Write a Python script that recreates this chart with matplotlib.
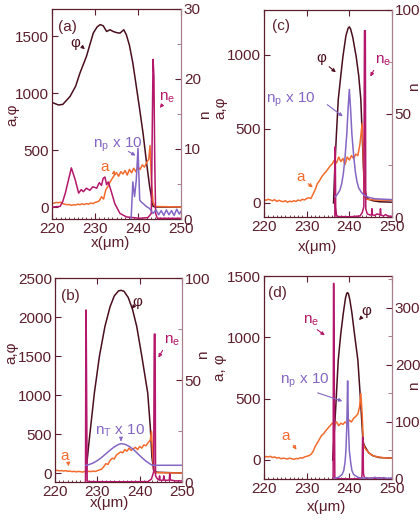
import numpy as np
import matplotlib
matplotlib.use("Agg")
import matplotlib.pyplot as plt
from matplotlib.ticker import MultipleLocator

plt.rcParams['font.family'] = ['Liberation Sans', 'DejaVu Sans']
plt.rcParams['mathtext.fontset'] = 'custom'
plt.rcParams['mathtext.rm'] = 'Liberation Sans'
plt.rcParams['mathtext.it'] = 'Liberation Sans'

# ---------------- data ----------------
x_ticks = [220, 230, 240, 250]

# panel (a)
phi_a_x = [220, 221.5, 222.5, 224.2, 225.5, 226.5, 228, 229.6, 230.5, 231.2, 231.9, 232.7, 233.5, 234.2,
           235, 235.8, 236.7, 237.3, 238, 238.8, 239.6, 240.4, 241.2, 241.9, 242.7, 243.5, 244, 250]
phi_a_y = [918, 895, 900, 970, 1060, 1175, 1320, 1526, 1580, 1600, 1590, 1540, 1555, 1540,
           1530, 1525, 1555, 1510, 1420, 1263, 1060, 854, 640, 415, 181, 6, 0, 0]
a_a_x = [220, 220.5, 221, 221.5, 222, 222.5, 223, 223.5, 224, 224.5, 225, 225.5, 226, 226.5, 227, 227.5,
         228, 228.5, 229, 229.5, 230, 230.5, 231, 231.5, 232, 232.5, 233, 233.5, 234, 234.5, 235, 235.5,
         236, 236.5, 237, 237.5, 238, 238.5, 239, 239.5, 240, 240.5, 241, 241.5, 242, 242.5, 242.8,
         243.1, 243.5, 244, 250]
a_a_y = [30, 35, 40, 38, 42, 30, 25, 20, 22, 15, 20, 18, 25, 20, 28, 22,
         30, 25, 35, 30, 40, 45, 55, 90, 70, 150, 180, 220, 250, 280, 300, 270,
         310, 290, 320, 280, 330, 300, 340, 310, 350, 330, 370, 350, 390, 420, 540,
         240, 40, 5, 0]
ne_a_x = [220, 221.9, 222.5, 223.1, 223.8, 224.5, 225.4, 226.2, 226.8, 227.3, 228, 228.8, 229.5, 230.4,
          231, 231.5, 231.9, 232.3, 232.7, 233.1, 233.8, 234.6, 235.8, 237.3, 240.4, 242.3, 243.1,
          243.3, 243.5, 243.7, 243.9, 244.1, 244.5, 250]
ne_a_y = [1.7, 1.8, 2.5, 3.7, 5.5, 7.3, 5.6, 3.7, 4.2, 3.9, 4.4, 4.1, 4.6, 4.4,
          5.2, 4.8, 5.8, 6.0, 4.9, 5.3, 3.9, 2.2, 0.8, 0.3, 0.1, 0.2, 0.8,
          12, 22.8, 20.5, 8, 0.8, 0.1, 0.1]
np_a_x = [238.4, 238.8, 239.2, 239.6, 240.0, 240.4, 240.8, 241.2, 241.9, 242.7, 243.5, 244.2, 244.8,
          245.4, 246, 246.6, 247.2, 247.8, 248.4, 249, 249.6, 250]
np_a_y = [0, 5.3, 3.2, 5.6, 10.1, 2.7, 2.4, 2.2, 1.8, 1.5, 0.8, 1.3, 0.6,
          1.2, 0.5, 1.3, 0.6, 1.2, 0.5, 1.4, 0.7, 1.1]

# panel (c)
phi_c_x = [236.3, 236.6, 237.0, 237.4, 238.0, 238.5, 239.2, 239.7, 240.0, 240.3, 240.8, 241.6, 242.2,
           242.7, 243.3, 243.6, 244.0, 244.5, 245.5, 247, 250]
phi_c_y = [0, 245, 480, 697, 860, 990, 1130, 1180, 1190, 1175, 1120, 990, 860,
           697, 245, 100, 40, 25, 15, 8, 5]
a_c_x = [220, 220.5, 221, 221.5, 222, 222.5, 223, 223.5, 224, 224.5, 225, 225.5, 226, 226.5, 227, 227.5,
         228, 228.5, 229, 229.5, 230, 230.5, 231, 231.5, 232, 232.5, 233, 233.5, 234, 234.5, 235, 235.5,
         236, 236.5, 237, 237.5, 238, 238.5, 239, 239.5, 240, 240.5, 241, 241.5, 242, 242.5, 243,
         243.2, 243.5, 244, 246, 250]
a_c_y = [23, 18, 25, 20, 15, 22, 10, 18, 12, 8, 15, 5, 12, 8, 15, 10,
         20, 15, 25, 20, 30, 35, 30, 60, 90, 130, 150, 175, 195, 210, 230, 250,
         265, 290, 270, 310, 280, 300, 260, 310, 290, 320, 300, 330, 320, 400, 538,
         400, 40, 25, 20, 18]
ne_c_x = [236.6, 236.7, 236.8, 237.0, 237.5, 240, 242.5, 243.0, 243.4, 243.55, 243.65, 243.75, 243.85,
          244.2, 244.8, 245.2, 245.3, 245.4, 246, 246.5, 247.2, 247.3, 247.4, 248, 248.5, 249, 250]
ne_c_y = [0, 34, 5, 0.5, 0.2, 0.1, 0.5, 2, 5, 90, 90, 90, 4,
          1.5, 1, 1, 4, 1, 0.8, 1.5, 1, 4, 1, 0.5, 1.2, 0.5, 0.3]
np_c_x = [236.7, 237.2, 237.8, 238.2, 238.6, 239.0, 239.4, 239.7, 240.0, 240.3, 240.6, 241.0, 241.4,
          241.8, 242.2, 242.8, 243.5, 244.5, 246, 250]
np_c_y = [9.7, 11, 13, 16, 21, 29, 40, 52, 61.6, 52, 40, 30, 22,
          17, 14, 12, 10.5, 9.5, 8.8, 8.4]

# panel (b)
phi_b_x = [227.3, 228, 229.3, 230.5, 231.8, 233, 234, 235, 235.6, 236.3, 237.3, 238.3, 239.3, 240.5,
           241.9, 242.5, 242.9, 243.3, 244, 250]
phi_b_y = [0, 380, 1026, 1500, 1880, 2130, 2270, 2335, 2342, 2330, 2250, 2100, 1880, 1500,
           1026, 600, 200, 40, 10, 0]
a_b_x = [220, 220.5, 221, 221.5, 222, 222.5, 223, 223.5, 224, 224.5, 225, 225.5, 226, 226.5, 227, 227.5,
         228, 228.5, 229, 229.5, 230, 230.5, 231, 231.5, 232, 232.5, 233, 233.5, 234, 234.5, 235, 235.5,
         236, 236.5, 237, 237.5, 238, 238.5, 239, 239.5, 240, 240.5, 241, 241.5, 242, 242.5, 242.8,
         243.0, 243.3, 243.6, 244, 250]
a_b_y = [30, 35, 28, 32, 25, 30, 22, 25, 18, 22, 15, 20, 18, 12, 20, 15,
         22, 18, 25, 20, 30, 40, 50, 80, 120, 110, 160, 190, 180, 230, 250, 270,
         260, 300, 280, 320, 290, 310, 330, 300, 340, 320, 360, 350, 390, 420, 534,
         300, 40, 0, 5, 0]
ne_b_x = [227.2, 227.3, 227.35, 227.6, 228, 235, 242, 242.8, 243.1, 243.3, 243.45, 243.55, 243.65, 243.75,
          244.2, 244.6, 244.7, 244.8, 245.2, 245.6, 245.7, 245.8, 246.4, 247.0, 247.1, 247.2, 247.8,
          248.5, 249.2, 250]
ne_b_y = [0, 84.3, 84.3, 0.5, 0.2, 0.1, 0.2, 1.5, 3.6, 5, 72.5, 72.5, 72.5, 3,
          1.5, 1, 3, 1, 0.8, 1, 3, 1, 0.8, 1, 4, 1, 0.8,
          0.5, 0.6, 0.5]
nT_b_x = [227.3, 228, 229, 230, 231, 232, 233, 234, 235, 235.6, 236.5, 237.5, 238.5, 239.5, 240.5,
          241.5, 242.5, 242.9, 244, 250]
nT_b_y = [8.2, 8.5, 9.3, 10.5, 12.0, 13.8, 15.6, 17.2, 18.4, 18.8, 18.5, 17.5, 16.0, 14.0, 12.0,
          10.2, 8.8, 8.3, 8.2, 8.2]

# panel (d)
phi_d_x = [236.1, 236.8, 237.4, 238.0, 238.6, 239.1, 239.4, 239.6, 239.8, 240.1, 240.6, 241.2, 242.0,
           242.6, 243.2, 243.5, 244, 244.5, 245.5, 247, 250]
phi_d_y = [0, 420, 814, 1030, 1200, 1320, 1360, 1364, 1355, 1310, 1200, 1030, 814,
           500, 150, 120, 90, 60, 35, 20, 15]
a_d_x = [220, 220.5, 221, 221.5, 222, 222.5, 223, 223.5, 224, 224.5, 225, 225.5, 226, 226.5, 227, 227.5,
         228, 228.5, 229, 229.5, 230, 230.5, 231, 231.5, 232, 232.5, 233, 233.5, 234, 234.5, 235, 235.5,
         236, 236.5, 237, 237.5, 238, 238.5, 239, 239.5, 240, 240.5, 241, 241.5, 242, 242.4, 242.7,
         243.0, 243.3, 243.6, 244, 245, 246, 248, 250]
a_d_y = [22, 28, 25, 30, 20, 25, 15, 20, 10, 15, 12, 8, 15, 10, 5, 12,
         10, 18, 15, 25, 30, 35, 45, 70, 110, 140, 170, 200, 215, 240, 260, 280,
         300, 290, 310, 280, 300, 290, 310, 295, 325, 310, 340, 355, 375, 434, 542,
         380, 130, 100, 80, 45, 30, 18, 15]
ne_d_x = [236.2, 236.3, 236.35, 236.6, 237, 240, 242.5, 242.9, 243.0, 243.1, 243.2, 243.3, 243.5, 244,
          245, 246, 247, 248, 250]
ne_d_y = [0, 343, 343, 2, 0.5, 0.2, 0.3, 2, 10, 73, 73, 10, 3, 1,
          1.5, 1, 2, 0.8, 0.5]
np_d_x = [236.5, 237.5, 238.3, 238.7, 239.0, 239.2, 239.4, 239.5, 239.6, 239.7, 239.8, 240.0, 240.3,
          240.6, 241, 242, 243.2, 244, 245, 246, 247, 248, 249, 250]
np_d_y = [1, 3, 8, 15, 30, 50, 90, 130, 172, 130, 90, 50, 30,
          15, 8, 3, 1, 2.5, 0.5, 3, 0.5, 2.5, 0.8, 2]

# ---------------- style ----------------
W, H = 420, 520
C_TXT = '#5c1f2e'
C_PHI = '#4a0f1f'
C_A = '#f26b2e'
C_NE = '#b5176b'
C_NP = '#8466c4'
C_RSP = '#a8808c'
FS = 11
LW = 1.1

fig = plt.figure(figsize=(W / 100, H / 100), dpi=100)


def box(l, r, t, b):
    return [l / W, 1 - b / H, (r - l) / W, (b - t) / H]


def fp(x, y):
    return (x / W, 1 - y / H)


def panel(rect, ylim_l, lticks, ylim_r, rticks, rminor, series_l, series_r):
    ax = fig.add_axes(rect)
    ax.set_xlim(220, 250)
    ax.set_ylim(*ylim_l)
    ax.set_xticks(x_ticks)
    ax.xaxis.set_minor_locator(MultipleLocator(1))
    ax.set_yticks(lticks)
    for xs, ys, c in series_l:
        ax.plot(xs, ys, color=c, lw=LW)
    ax.tick_params(axis='both', which='major', direction='in', length=4, width=0.8,
                   colors=C_TXT, labelsize=FS, top=True, pad=2)
    ax.tick_params(axis='x', which='minor', direction='in', length=1.8, width=0.6,
                   colors=C_TXT, top=False)
    for s in ['left', 'bottom', 'top']:
        ax.spines[s].set_color(C_TXT)
        ax.spines[s].set_linewidth(0.9)
    ax.spines['right'].set_visible(False)
    ax2 = ax.twinx()
    ax2.set_ylim(*ylim_r)
    ax2.set_yticks(rticks)
    ax2.yaxis.set_minor_locator(MultipleLocator(rminor))
    for xs, ys, c in series_r:
        ax2.plot(xs, ys, color=c, lw=LW)
    ax2.tick_params(axis='y', which='major', direction='in', length=4, width=0.8,
                    colors=C_TXT, labelsize=FS, pad=2)
    ax2.tick_params(axis='y', which='minor', direction='in', length=3, width=0.7, colors=C_RSP)
    ax2.spines['right'].set_color(C_RSP)
    ax2.spines['right'].set_linewidth(0.9)
    for s in ['left', 'bottom', 'top']:
        ax2.spines[s].set_visible(False)
    return ax, ax2


def axlabels(ylab, yl_xy, n_xy, x_xy):
    fig.text(*fp(*yl_xy), ylab, color=C_TXT, fontsize=FS, rotation=90, ha='center', va='center')
    fig.text(*fp(*n_xy), 'n', color=C_TXT, fontsize=FS, rotation=90, ha='center', va='center')
    fig.text(*fp(*x_xy), 'x(μm)', color=C_TXT, fontsize=FS, ha='center', va='center')


def label(text, xy_txt, color, arrow=None):
    fig.text(*fp(*xy_txt), text, color=color, fontsize=FS, ha='center', va='center')
    if arrow is not None:
        (x0, y0), (x1, y1) = arrow
        fig.add_artist(matplotlib.patches.FancyArrowPatch(
            fp(x0, y0), fp(x1, y1), transform=fig.transFigure, arrowstyle='-|>',
            mutation_scale=5, lw=0.8, color=color))


# (a)
panel(box(52, 181, 9, 219), (-105, 1737), [0, 500, 1000, 1500], (0, 30), [0, 10, 20, 30], 5,
      [(phi_a_x, phi_a_y, C_PHI), (a_a_x, a_a_y, C_A)],
      [(ne_a_x, ne_a_y, C_NE), (np_a_x, np_a_y, C_NP)])
axlabels('a,φ', (12, 115), (205, 115), (111, 243))
label('(a)', (67, 27), C_TXT)
label('φ', (75, 43), C_PHI, ((80, 45), (87, 51)))
label(r'n$_\mathregular{e}$', (167, 98), C_NE, ((163, 104), (158, 110)))
label(r'n$_\mathregular{p}$ x 10', (118, 145), C_NP, ((126, 150), (138, 157)))
label('a', (105, 167), C_A, ((111, 171), (119, 176)))

# (c)
panel(box(264, 392, 10, 217), (-95, 1304), [0, 500, 1000], (0, 100), [0, 50, 100], 25,
      [(phi_c_x, phi_c_y, C_PHI), (a_c_x, a_c_y, C_A)],
      [(ne_c_x, ne_c_y, C_NE), (np_c_x, np_c_y, C_NP)])
axlabels('a,φ', (220, 108), (414, 87), (318, 247))
label('(c)', (281, 26), C_TXT)
label('φ', (321, 58), C_PHI, ((327, 65), (338, 74)))
label(r'n$_\mathregular{e}$', (383, 61), C_NE, ((375, 68), (369, 79)))
label(r'n$_\mathregular{p}$ x 10', (291, 100), C_NP, ((325, 103), (345, 118)))
label('a', (301, 177), C_A, ((306, 182), (315, 189)))

# (b)
panel(box(55, 182, 278, 482), (-115, 2500), [0, 500, 1000, 1500, 2000, 2500], (0, 100), [0, 50, 100], 25,
      [(phi_b_x, phi_b_y, C_PHI), (a_b_x, a_b_y, C_A)],
      [(ne_b_x, ne_b_y, C_NE), (nT_b_x, nT_b_y, C_NP)])
axlabels('a,φ', (11, 353), (203, 355), (110, 503))
label('(b)', (70, 296), C_TXT)
label('φ', (137, 302), C_PHI, ((134, 306), (130, 311)))
label(r'n$_\mathregular{e}$', (172, 341), C_NE, ((164, 348), (157, 360)))
label(r'n$_\mathregular{T}$ x 10', (120, 431), C_NP, ((121, 437), (121, 444)))
label('a', (65, 456), C_A, ((68, 461), (69, 469)))

# (d)
panel(box(264, 392, 276, 479), (-155, 1500), [0, 500, 1000, 1500], (0, 356), [0, 100, 200, 300], 50,
      [(phi_d_x, phi_d_y, C_PHI), (a_d_x, a_d_y, C_A)],
      [(ne_d_x, ne_d_y, C_NE), (np_d_x, np_d_y, C_NP)])
axlabels('a, φ', (220, 368), (414, 386), (327, 507))
label('(d)', (277, 293), C_TXT)
label(r'n$_\mathregular{e}$', (311, 321), C_NE, ((315, 328), (327, 337)))
label('φ', (366, 311), C_PHI, ((363, 316), (357, 322)))
label(r'n$_\mathregular{p}$ x 10', (305, 381), C_NP, ((315, 392), (345, 402)))
label('a', (286, 436), C_A, ((292, 443), (298, 452)))

fig.savefig('out.png', dpi=100)
